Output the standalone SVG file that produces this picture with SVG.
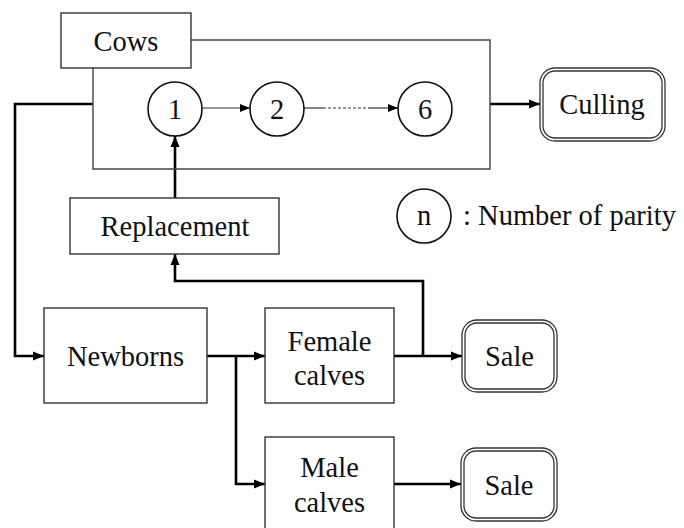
<svg xmlns="http://www.w3.org/2000/svg" width="684" height="528" viewBox="0 0 684 528">
<defs>
<style>
text{font-family:"Liberation Serif","Times New Roman",serif;font-size:28.5px;fill:#111;text-anchor:middle}
.box{fill:#fff;stroke:#333;stroke-width:1.4}
.frame{fill:none;stroke:#444;stroke-width:1.4}
.circ{fill:#fff;stroke:#111;stroke-width:1.6}
.dbl{fill:#fff;stroke:#333;stroke-width:1.3}
.thick{fill:none;stroke:#000;stroke-width:2.6}
.thin{fill:none;stroke:#333;stroke-width:1.2}
</style>
<marker id="ah" markerUnits="userSpaceOnUse" markerWidth="12" markerHeight="10" refX="11" refY="5" orient="auto">
<path d="M0,0.5 L11,5 L0,9.5 Z" fill="#000"/>
</marker>
<marker id="ahs" markerUnits="userSpaceOnUse" markerWidth="11" markerHeight="9" refX="10" refY="4.5" orient="auto">
<path d="M0,0.5 L10,4.5 L0,8.5 Z" fill="#000"/>
</marker>
</defs>
<rect width="684" height="528" fill="#fff"/>

<g id="connectors">
<path class="thick" d="M93,104 H15 V356 H44" marker-end="url(#ah)"/>
<path class="thick" d="M207,356 H265" marker-end="url(#ah)"/>
<path class="thick" d="M236,356 V484 H265" marker-end="url(#ah)"/>
<path class="thick" d="M394,356 H462" marker-end="url(#ah)"/>
<path class="thick" d="M423,356 V281 H175 V254" marker-end="url(#ah)"/>
<path class="thick" d="M175,198 V136" marker-end="url(#ah)"/>
<path class="thick" d="M490,104 H540" marker-end="url(#ah)"/>
<path class="thick" d="M394,484 H461" marker-end="url(#ah)"/>
<path class="thin" d="M202,108 H250" marker-end="url(#ahs)"/>
<path class="thin" d="M302,108 H323"/>
<path class="thin" d="M323,108 H368" stroke-dasharray="3,2"/>
<path class="thin" d="M368,108 H398" marker-end="url(#ahs)"/>
</g>

<g id="cows">
<path class="frame" d="M191,40 H490 V169 H93 V68"/>
<rect class="box" x="61" y="13" width="130" height="55"/>
<text x="126" y="51">Cows</text>
</g>

<g id="parity1">
<circle class="circ" cx="175" cy="109" r="27"/>
<text x="175" y="119">1</text>
</g>
<g id="parity2">
<circle class="circ" cx="277" cy="109" r="27"/>
<text x="277" y="119">2</text>
</g>
<g id="parity6">
<circle class="circ" cx="425" cy="109" r="27"/>
<text x="425" y="119">6</text>
</g>

<g id="culling">
<rect class="dbl" x="540" y="68" width="125" height="73" rx="15"/>
<rect class="dbl" x="543" y="71" width="119" height="67" rx="12"/>
<text x="602" y="114">Culling</text>
</g>

<g id="legend">
<circle class="circ" cx="424" cy="216" r="27"/>
<text x="424" y="225">n</text>
<text x="463" y="225" style="text-anchor:start">: Number of parity</text>
</g>

<g id="replacement">
<rect class="box" x="70" y="198" width="209" height="56"/>
<text x="175" y="236">Replacement</text>
</g>

<g id="newborns">
<rect class="box" x="44" y="308" width="163" height="95"/>
<text x="125.5" y="366">Newborns</text>
</g>

<g id="female">
<rect class="box" x="265" y="308" width="129" height="95"/>
<text x="329.5" y="351">Female</text>
<text x="329.5" y="385">calves</text>
</g>

<g id="male">
<rect class="box" x="265" y="437" width="129" height="95"/>
<text x="329.5" y="477">Male</text>
<text x="329.5" y="512">calves</text>
</g>

<g id="sale1">
<rect class="dbl" x="462" y="320" width="95" height="72" rx="15"/>
<rect class="dbl" x="465" y="323" width="89" height="66" rx="12"/>
<text x="509.5" y="366">Sale</text>
</g>

<g id="sale2">
<rect class="dbl" x="461" y="448" width="96" height="73" rx="15"/>
<rect class="dbl" x="464" y="451" width="90" height="67" rx="12"/>
<text x="509" y="495">Sale</text>
</g>
</svg>
